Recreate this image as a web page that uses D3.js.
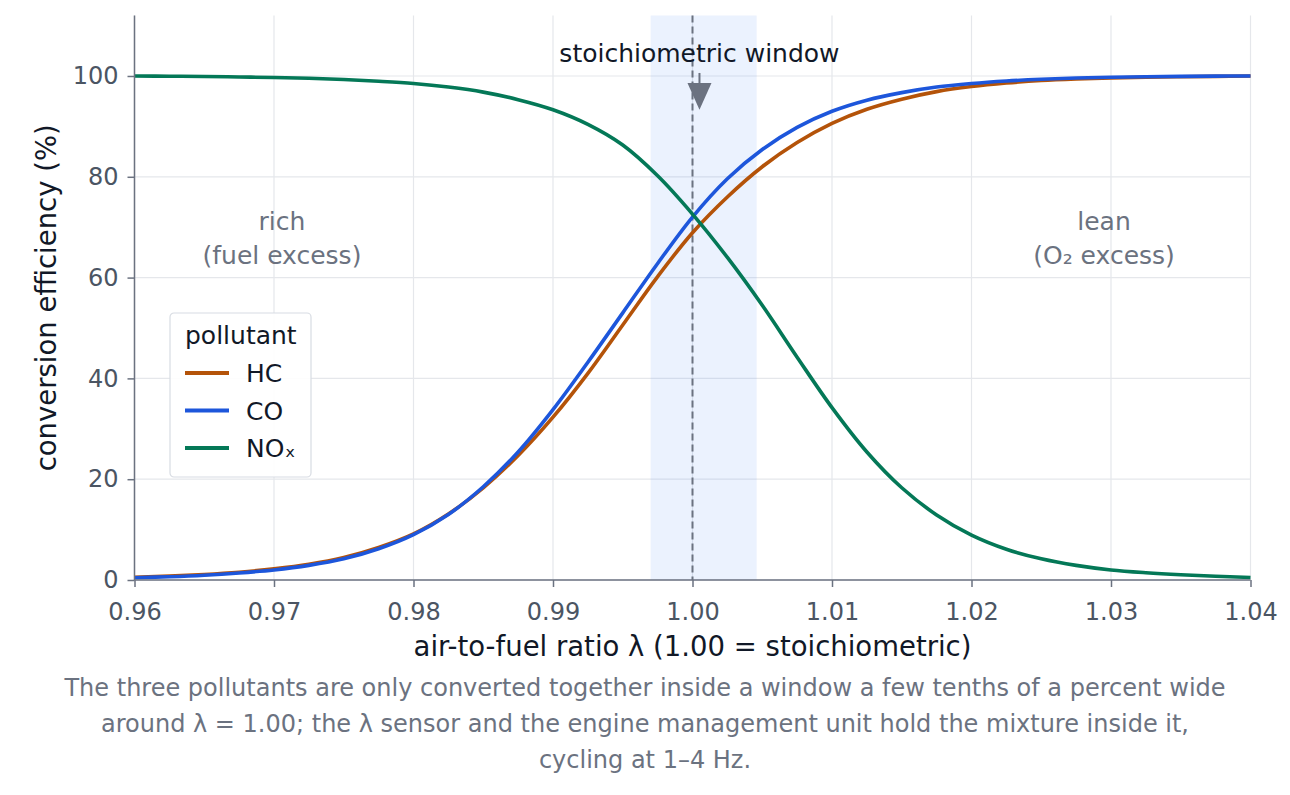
<!DOCTYPE html>
<html>
<head>
<meta charset="utf-8">
<script src="https://cdn.jsdelivr.net/npm/d3@7"></script>
<style>
  body { margin: 0; background: #fff; }
  svg { font-family: "DejaVu Sans", sans-serif; }
</style>
</head>
<body>
<div id="chart"></div>
<script>
// lambda samples and conversion efficiency (%)
const lambdas = [0.96, 0.9625, 0.965, 0.9675, 0.97, 0.9725, 0.975, 0.9775, 0.98, 0.9825, 0.985, 0.9875,
  0.99, 0.9925, 0.995, 0.9975, 1.00, 1.0025, 1.005, 1.0075, 1.01, 1.0125, 1.015, 1.0175,
  1.02, 1.0225, 1.025, 1.0275, 1.03, 1.0325, 1.035, 1.0375, 1.04];
const hcValues = [0.55, 0.78, 1.1, 1.55, 2.2, 3.1, 4.45, 6.45, 9.15, 13.1, 18.3, 24.7,
  32.3, 41.0, 50.6, 60.2, 68.9, 76.0, 82.0, 86.8, 90.6, 93.4, 95.4, 96.9,
  97.9, 98.6, 99.1, 99.4, 99.6, 99.75, 99.85, 99.93, 100];
const coValues = [0.45, 0.65, 0.95, 1.4, 2.0, 2.9, 4.2, 6.2, 9.0, 13.0, 18.5, 25.4,
  33.8, 43.2, 53.0, 62.8, 72.0, 79.6, 85.4, 89.8, 93.0, 95.2, 96.7, 97.8,
  98.5, 99.0, 99.35, 99.6, 99.75, 99.85, 99.92, 99.97, 100];
const noxValues = [100, 99.95, 99.9, 99.8, 99.7, 99.55, 99.3, 98.95, 98.5, 97.8, 96.8, 95.3,
  93.3, 90.4, 86.3, 80.2, 72.6, 64.0, 54.5, 44.2, 34.2, 25.4, 18.3, 12.9,
  8.9, 6.1, 4.2, 2.9, 2.0, 1.45, 1.05, 0.75, 0.5];

const seriesNames = ['HC', 'CO', 'NOₓ'];
const seriesColors = ['#b45309', '#1d56db', '#047857'];
const xTicks = [0.96, 0.97, 0.98, 0.99, 1.00, 1.01, 1.02, 1.03, 1.04];
const yTicks = [0, 20, 40, 60, 80, 100];
const windowRange = [0.997, 1.0046];
const captionLines = [
  'The three pollutants are only converted together inside a window a few tenths of a percent wide',
  'around λ = 1.00; the λ sensor and the engine management unit hold the mixture inside it,',
  'cycling at 1–4 Hz.'
];

const width = 1290, height = 795,
    margin = {left: 134.5, top: 15.5, right: 39.5, bottom: 215},
    innerW = width - margin.left - margin.right,
    innerH = height - margin.top - margin.bottom;

const axisColor = '#6b7280', gridColor = '#e5e7eb', textDark = '#111827', tickText = '#4b5563';

const svg = d3.select('#chart').append('svg')
    .attr('width', width)
    .attr('height', height);

const g = svg.append('g')
    .attr('transform', `translate(${margin.left}, ${margin.top})`);

const x = d3.scaleLinear().domain([0.96, 1.04]).range([0, innerW]);
const y = d3.scaleLinear().domain([0, 112]).range([innerH, 0]);

// grid
g.append('g').selectAll('line')
    .data(xTicks)
    .join('line')
    .attr('x1', d => x(d)).attr('x2', d => x(d))
    .attr('y1', 0).attr('y2', innerH)
    .attr('stroke', gridColor).attr('stroke-width', 1.2);

g.append('g').selectAll('line')
    .data(yTicks)
    .join('line')
    .attr('x1', 0).attr('x2', innerW)
    .attr('y1', d => y(d)).attr('y2', d => y(d))
    .attr('stroke', gridColor).attr('stroke-width', 1.2);

// stoichiometric window band
g.append('rect')
    .attr('x', x(windowRange[0]))
    .attr('width', x(windowRange[1]) - x(windowRange[0]))
    .attr('y', 0)
    .attr('height', innerH)
    .attr('fill', '#3b82f6')
    .attr('fill-opacity', 0.1);

g.append('line')
    .attr('x1', x(1.00)).attr('x2', x(1.00))
    .attr('y1', 0).attr('y2', innerH)
    .attr('stroke', axisColor)
    .attr('stroke-width', 2)
    .attr('stroke-dasharray', '7,4');

// region labels
const regionLabels = [
  {lam: 0.97057, lines: ['rich', '(fuel excess)']},
  {lam: 1.0295, lines: ['lean', '(O₂ excess)']}
];
regionLabels.forEach(r => {
  const t = g.append('text')
      .attr('text-anchor', 'middle')
      .attr('fill', axisColor)
      .style('font-size', '25px');
  r.lines.forEach((line, i) => {
    t.append('tspan')
        .attr('x', x(r.lam))
        .attr('y', y(69.4) + i * 34)
        .text(line);
  });
});

// curves
const seriesValues = [hcValues, coValues, noxValues];
const line = d3.line()
    .x((d, i) => x(lambdas[i]))
    .y(d => y(d))
    .curve(d3.curveCatmullRom.alpha(0.5));

g.append('g').selectAll('path')
    .data(seriesValues)
    .join('path')
    .attr('d', d => line(d))
    .attr('fill', 'none')
    .attr('stroke', (d, i) => seriesColors[i])
    .attr('stroke-width', 3.6)
    .attr('stroke-linejoin', 'round');

// axes
const xAxis = g.append('g')
    .attr('transform', `translate(0, ${innerH})`)
    .call(d3.axisBottom(x).tickValues(xTicks).tickFormat(d3.format('.2f')).tickSize(7).tickPadding(16));
const yAxis = g.append('g')
    .call(d3.axisLeft(y).tickValues(yTicks).tickSize(7).tickPadding(9));

[xAxis, yAxis].forEach(a => {
  a.select('.domain').attr('stroke', axisColor).attr('stroke-width', 1.5);
  a.selectAll('.tick line').attr('stroke', axisColor).attr('stroke-width', 1.5);
  a.selectAll('.tick text')
      .attr('fill', tickText)
      .style('font-family', '"DejaVu Sans", sans-serif')
      .style('font-size', '24px');
});
yAxis.select('.domain').attr('d', `M0,${innerH}V0`);
xAxis.select('.domain').attr('d', `M0,0H${innerW}`);

// axis titles
svg.append('text')
    .attr('x', margin.left + innerW / 2)
    .attr('y', 656)
    .attr('text-anchor', 'middle')
    .attr('fill', textDark)
    .style('font-size', '27.5px')
    .text('air-to-fuel ratio λ (1.00 = stoichiometric)');

svg.append('text')
    .attr('transform', `translate(56, ${margin.top + innerH / 2}) rotate(-90)`)
    .attr('text-anchor', 'middle')
    .attr('fill', textDark)
    .style('font-size', '27.5px')
    .text('conversion efficiency (%)');

// annotation with arrow
const arrowX = x(1.0005);
g.append('text')
    .attr('x', arrowX)
    .attr('y', y(102.8))
    .attr('text-anchor', 'middle')
    .attr('fill', textDark)
    .style('font-size', '25px')
    .text('stoichiometric window');

g.append('line')
    .attr('x1', arrowX).attr('x2', arrowX)
    .attr('y1', y(100.6)).attr('y2', y(97))
    .attr('stroke', axisColor)
    .attr('stroke-width', 2);

g.append('path')
    .attr('d', `M${arrowX - 12},${y(98.6)} L${arrowX + 12},${y(98.6)} L${arrowX},${y(93.3)} Z`)
    .attr('fill', axisColor);

// legend
const legend = svg.append('g')
    .attr('transform', 'translate(170, 313)');

legend.append('rect')
    .attr('width', 141)
    .attr('height', 164)
    .attr('rx', 4)
    .attr('fill', '#fff')
    .attr('fill-opacity', 0.9)
    .attr('stroke', '#d8dce3')
    .attr('stroke-width', 1.2);

legend.append('text')
    .attr('x', 15)
    .attr('y', 31)
    .attr('fill', textDark)
    .style('font-size', '25px')
    .text('pollutant');

const item = legend.selectAll('g.item')
    .data(seriesNames)
    .join('g')
    .attr('class', 'item')
    .attr('transform', (d, i) => `translate(15, ${60 + i * 37.5})`);

item.append('line')
    .attr('x1', 0).attr('x2', 44)
    .attr('stroke', (d, i) => seriesColors[i])
    .attr('stroke-width', 4);

item.append('text')
    .attr('x', 61)
    .attr('y', 9)
    .attr('fill', textDark)
    .style('font-size', '25px')
    .text(d => d);

// caption
svg.append('g').selectAll('text')
    .data(captionLines)
    .join('text')
    .attr('x', 645)
    .attr('y', (d, i) => 696 + i * 36)
    .attr('text-anchor', 'middle')
    .attr('fill', axisColor)
    .style('font-size', '24px')
    .text(d => d);
</script>
</body>
</html>
